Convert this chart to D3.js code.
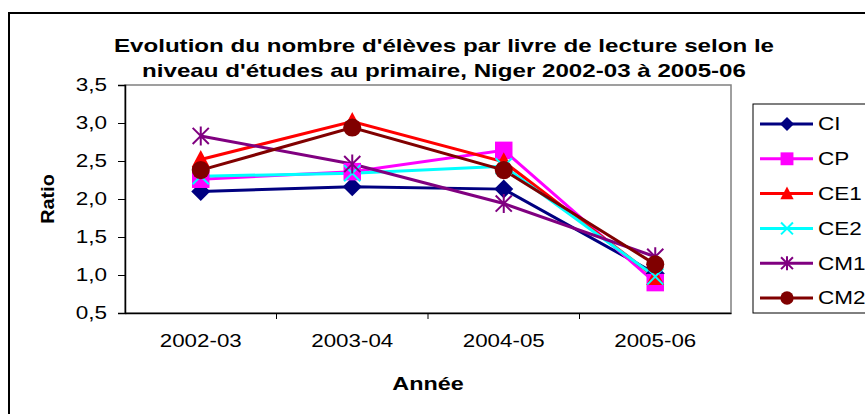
<!DOCTYPE html>
<html>
<head>
<meta charset="utf-8">
<script src="https://cdn.jsdelivr.net/npm/d3@7"></script>
<style>
  body { margin: 0; background: #fff; }
  text { font-family: "Liberation Sans", Arial, sans-serif; }
</style>
</head>
<body>
<svg id="chart" width="865" height="414"></svg>
<script>
// data
const years = ["2002-03", "2003-04", "2004-05", "2005-06"];
const levels = ["CI", "CP", "CE1", "CE2", "CM1", "CM2"];
const ciValues  = [2.10, 2.16, 2.13, 1.02];
const cpValues  = [2.26, 2.36, 2.64, 0.90];
const ce1Values = [2.52, 3.02, 2.49, 0.97];
const ce2Values = [2.30, 2.34, 2.43, 0.98];
const cm1Values = [2.83, 2.46, 1.94, 1.24];
const cm2Values = [2.38, 2.94, 2.38, 1.14];
const yTicks = [0.5, 1.0, 1.5, 2.0, 2.5, 3.0, 3.5];

const series = [
  { name: levels[0], values: ciValues,  color: "#000080", shape: "diamond" },
  { name: levels[1], values: cpValues,  color: "#ff00ff", shape: "square" },
  { name: levels[2], values: ce1Values, color: "#ff0000", shape: "triangle" },
  { name: levels[3], values: ce2Values, color: "#00ffff", shape: "cross" },
  { name: levels[4], values: cm1Values, color: "#800080", shape: "star" },
  { name: levels[5], values: cm2Values, color: "#800000", shape: "circle" }
];

const svg = d3.select("#chart");
const plot = { left: 125, top: 85, right: 731, bottom: 313 };

// the original text is drawn a bit wider than the font
function widen(sel, k) {
  sel.each(function() {
    const w = this.getComputedTextLength();
    d3.select(this).attr("textLength", w * k).attr("lengthAdjust", "spacingAndGlyphs");
  });
}

// outer frame
svg.append("rect")
    .attr("x", 9).attr("y", 13)
    .attr("width", 900).attr("height", 450)
    .attr("fill", "none").attr("stroke", "#000").attr("stroke-width", 2);

const x = d3.scaleBand().domain(years).range([plot.left, plot.right]);
const y = d3.scaleLinear().domain([0.5, 3.5]).range([plot.bottom, plot.top]);

// plot area border
svg.append("rect")
    .attr("x", plot.left).attr("y", plot.top)
    .attr("width", plot.right - plot.left).attr("height", plot.bottom - plot.top)
    .attr("fill", "none").attr("stroke", "#808080").attr("stroke-width", 1.5);

// y axis
const yAxis = svg.append("g")
    .attr("transform", `translate(${plot.left},0)`)
    .call(d3.axisLeft(y).tickValues(yTicks).tickSize(7).tickPadding(11)
        .tickFormat(d => d3.format(".1f")(d).replace(".", ",")));
yAxis.select(".domain").attr("stroke", "#000").attr("stroke-width", 1.5);
yAxis.selectAll("text").attr("font-size", 18).attr("fill", "#000");
widen(yAxis.selectAll("text"), 1.25);

// x axis with ticks between categories
const xAxis = svg.append("g")
    .attr("transform", `translate(0,${plot.bottom})`)
    .call(d3.axisBottom(x).tickSize(0).tickPadding(21));
xAxis.select(".domain").attr("stroke", "#000").attr("stroke-width", 1.5);
xAxis.selectAll("text").attr("font-size", 18).attr("fill", "#000");
widen(xAxis.selectAll("text"), 1.24);
xAxis.selectAll(".sep")
    .data(years.slice(1))
    .join("line")
    .attr("class", "sep")
    .attr("x1", d => x(d)).attr("x2", d => x(d))
    .attr("y1", 0).attr("y2", 6)
    .attr("stroke", "#000");

const cx = d => x(d) + x.bandwidth() / 2;

function drawMarker(g, shape, color, s) {
  if (shape === "diamond") {
    g.append("path").attr("d", `M0,${-s}L${s},0L0,${s}L${-s},0Z`).attr("fill", color);
  } else if (shape === "square") {
    g.append("rect").attr("x", -s * 0.92).attr("y", -s * 0.92)
        .attr("width", s * 1.84).attr("height", s * 1.84).attr("fill", color);
  } else if (shape === "triangle") {
    g.append("path").attr("d", `M0,${-s}L${s * 0.95},${s * 0.8}L${-s * 0.95},${s * 0.8}Z`).attr("fill", color);
  } else if (shape === "cross") {
    g.append("path").attr("d", `M${-s * 0.85},${-s * 0.85}L${s * 0.85},${s * 0.85}M${-s * 0.85},${s * 0.85}L${s * 0.85},${-s * 0.85}`)
        .attr("stroke", color).attr("stroke-width", 2);
  } else if (shape === "star") {
    g.append("path").attr("d", `M${-s * 0.85},${-s * 0.85}L${s * 0.85},${s * 0.85}M${-s * 0.85},${s * 0.85}L${s * 0.85},${-s * 0.85}M0,${-s}L0,${s}`)
        .attr("stroke", color).attr("stroke-width", 2);
  } else if (shape === "circle") {
    g.append("circle").attr("r", s * 0.95).attr("fill", color);
  }
}

const line = d3.line().x((d, i) => cx(years[i])).y(d => y(d));

series.forEach(s => {
  svg.append("path")
      .datum(s.values)
      .attr("d", line)
      .attr("fill", "none")
      .attr("stroke", s.color)
      .attr("stroke-width", 3);
});
series.forEach(s => {
  s.values.forEach((v, i) => {
    const g = svg.append("g").attr("transform", `translate(${cx(years[i])},${y(v)})`);
    drawMarker(g, s.shape, s.color, 9.5);
  });
});

// legend
const legend = svg.append("g");
legend.append("rect")
    .attr("x", 753).attr("y", 104).attr("width", 200).attr("height", 209)
    .attr("fill", "#fff").attr("stroke", "#000").attr("stroke-width", 1);
series.forEach((s, i) => {
  const ly = 124 + i * 34.8;
  legend.append("line")
      .attr("x1", 760).attr("x2", 813).attr("y1", ly).attr("y2", ly)
      .attr("stroke", s.color).attr("stroke-width", 3);
  const g = legend.append("g").attr("transform", `translate(787,${ly})`);
  drawMarker(g, s.shape, s.color, 7);
  legend.append("text")
      .attr("class", "legend-label")
      .attr("x", 818).attr("y", ly).attr("dy", "0.36em")
      .attr("font-size", 18).text(s.name);
});
widen(legend.selectAll(".legend-label"), 1.25);

// titles
const title = svg.append("text")
    .attr("text-anchor", "middle").attr("font-weight", "bold").attr("font-size", 19);
title.append("tspan").attr("x", 444).attr("y", 52)
    .text("Evolution du nombre d'élèves par livre de lecture selon le");
title.append("tspan").attr("x", 444).attr("y", 77)
    .text("niveau d'études au primaire, Niger 2002-03 à 2005-06");
widen(title.selectAll("tspan"), 1.27);

const xTitle = svg.append("text")
    .attr("x", 428).attr("y", 390)
    .attr("text-anchor", "middle").attr("font-weight", "bold").attr("font-size", 18)
    .text("Année");
widen(xTitle, 1.3);

const yTitle = svg.append("text")
    .attr("transform", "translate(54,199) rotate(-90)")
    .attr("text-anchor", "middle").attr("font-weight", "bold").attr("font-size", 18)
    .text("Ratio");
widen(yTitle, 1.1);
</script>
</body>
</html>
